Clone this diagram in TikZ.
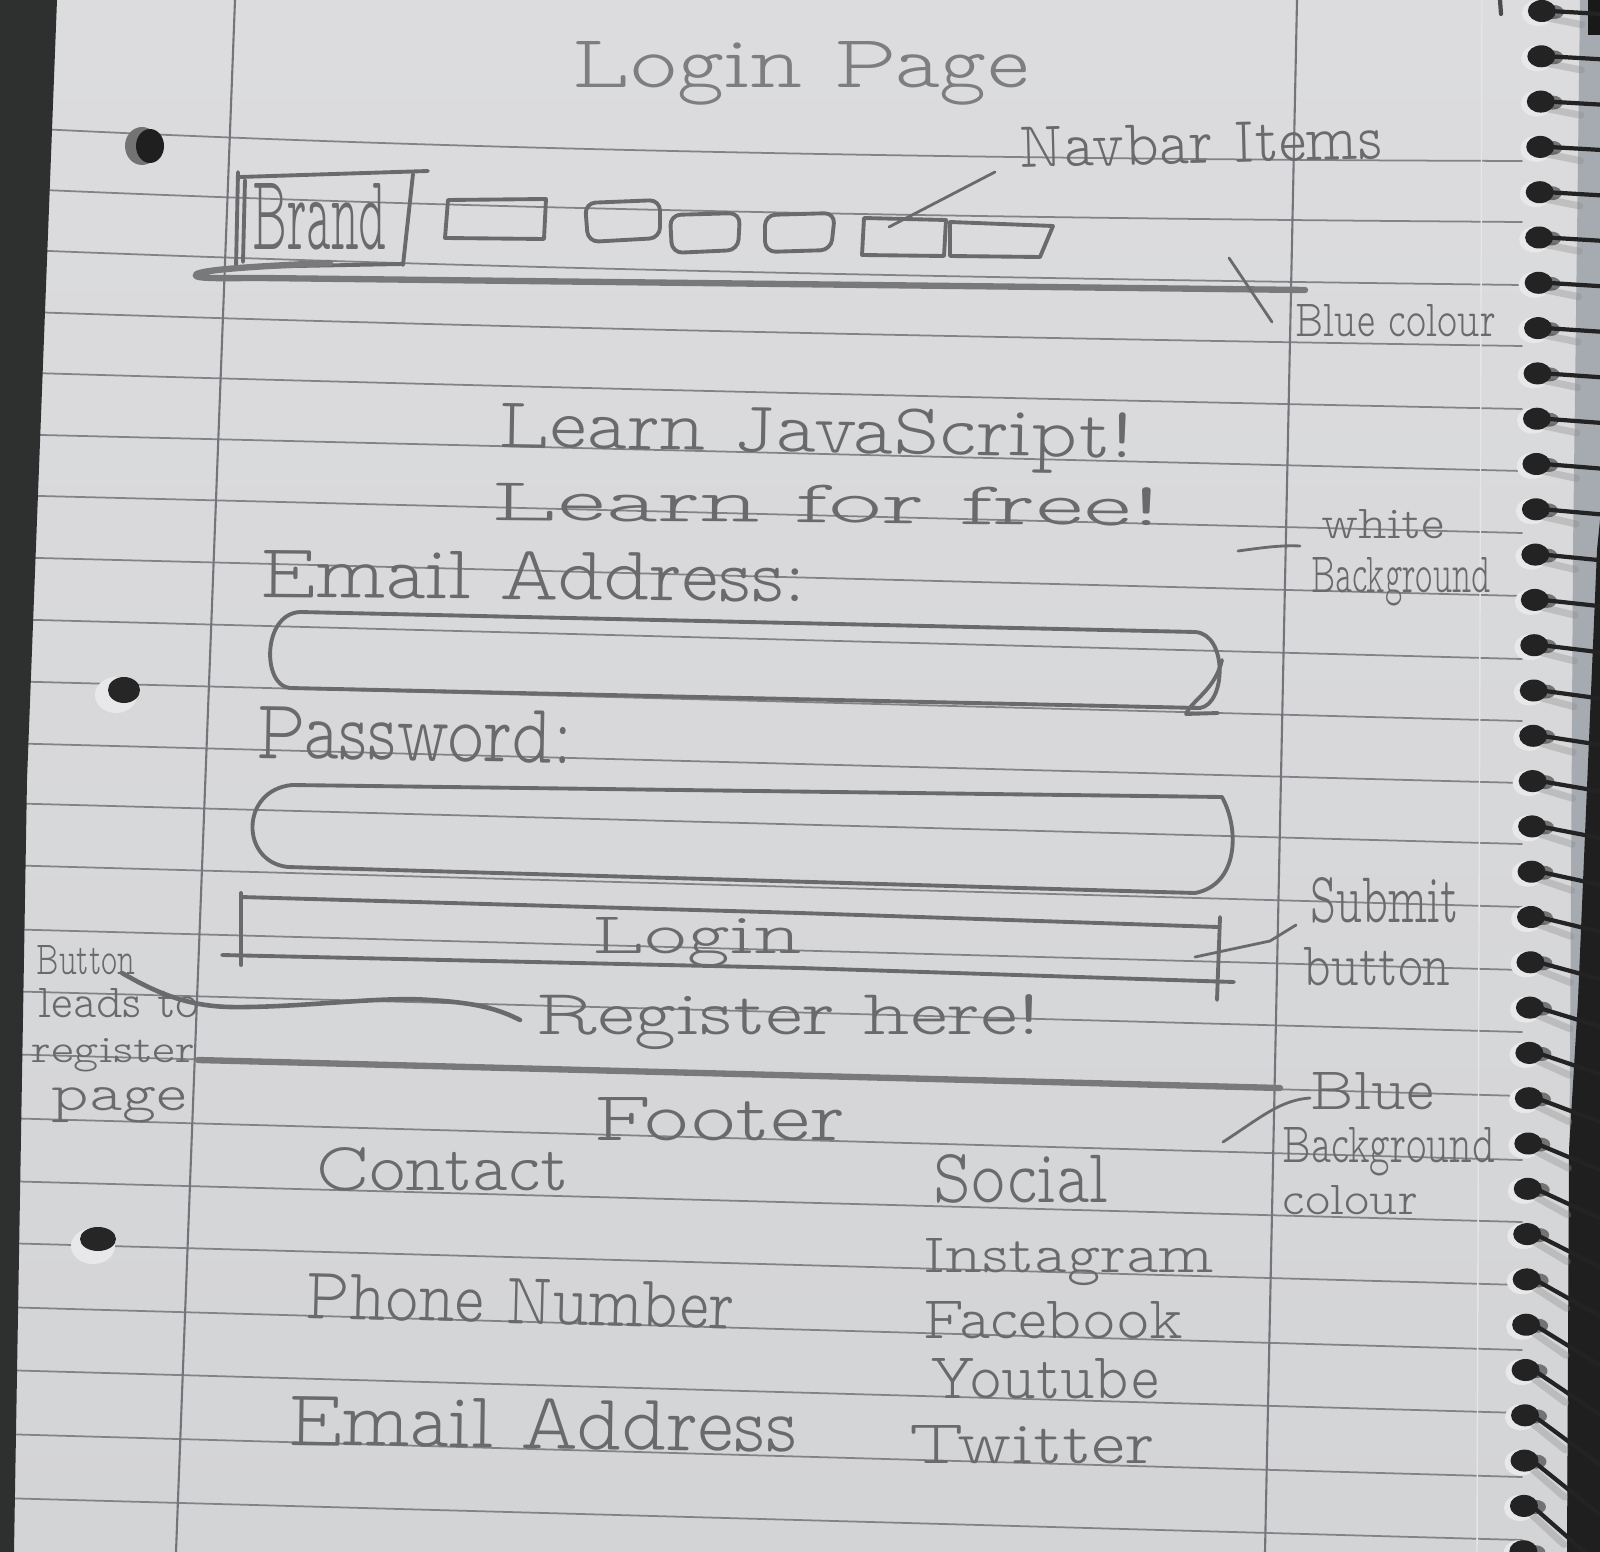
\documentclass[tikz,border=0pt]{standalone}
\usepackage{fontspec}
\usepackage{graphicx}
\newfontfamily\handfont{lmmonoproplt10-regular.otf}
\definecolor{paperTop}{HTML}{DCDCDE}
\definecolor{paperBot}{HTML}{D3D4D6}
\definecolor{rulec}{HTML}{838387}
\definecolor{marginc}{HTML}{74747A}
\definecolor{pencil}{HTML}{6A6A6C}
\definecolor{pencilsoft}{HTML}{7E7E80}
\definecolor{desk}{HTML}{2E302F}
\definecolor{coilc}{HTML}{232323}
\definecolor{cover}{HTML}{A6AAB1}
\definecolor{holering}{HTML}{E8E8EA}

% one unit = one pixel of the sheet (0.01cm)
\newlength\pxu \setlength\pxu{0.01cm}
\newcommand\hw[3]{\resizebox{#1\pxu}{#2\pxu}{#3}}

\begin{document}
\begin{tikzpicture}[x=0.01cm,y=-0.01cm,line cap=round,line join=round,
  rule/.style={draw=rulec,line width=0.5pt},
  marginline/.style={draw=marginc,line width=0.6pt},
  pencilline/.style={draw=pencil,line width=1.1pt},
  heavyline/.style={draw=pencil!90,line width=1.8pt},
  leader/.style={draw=pencil,line width=0.8pt},
  hand/.style={inner sep=0pt,anchor=base west,text=pencil,font=\handfont},
  wire/.style={draw=coilc,line width=1.2pt},
  wireshadow/.style={draw=black!45,line width=2pt,opacity=0.35}]
\useasboundingbox (0,0) rectangle (1600,1552);

% sheet
\shade[top color=paperTop,bottom color=paperBot] (0,0) rectangle (1600,1552);

% ruled lines (slightly curved near the top of the sheet)
\foreach \a/\b [count=\k from 0] in {129/161,190/222,251/285,313/346,374/409,436/471,
  497/533,559/596,621/659,683/721,745/783,805/844,867/907,931/970,993/1032,1056/1096,
  1120/1160,1183/1222,1245/1285,1309/1350,1372/1413,1436/1477,1500/1540}{
  \pgfmathsetmacro\off{max(0,1-\k/5)*12}
  \draw[rule] (0,\a-2) .. controls (400,{\a-2+(\b-\a+2)*0.262+\off})
     and (900,{\a-2+(\b-\a+2)*0.59+\off}) .. (1522,\b);
}

% margins
\draw[marginline] (235,0) -- (176,1552);
\draw[marginline] (1297,0) -- (1265,1552);
\draw[draw=black!10,line width=0.4pt] (1482,0) -- (1477,1552);

% desk at the left edge
\fill[desk] (0,0) -- (57,0) -- (27,780) -- (14,1552) -- (0,1552) -- cycle;

% punched holes
\fill[black!55] (142,146) ellipse [x radius=17,y radius=19];
\fill[black!88] (150,146) ellipse [x radius=14,y radius=17];
\fill[holering] (116,695) ellipse [x radius=21,y radius=18];
\fill[black!85] (124,690) ellipse [x radius=16,y radius=13];
\fill[holering] (93,1246) ellipse [x radius=22,y radius=18];
\fill[black!85] (98,1239) ellipse [x radius=18,y radius=12];

% cover edge behind the binding
\fill[cover] (1580,0) -- (1600,0) -- (1600,1552) -- (1567,1552) -- (1573,550) -- cycle;
\fill[black!90] (1588,0) rectangle (1600,35);
\fill[black!88] (1600,520) -- (1597,550) -- (1578,1000) -- (1569,1150) -- (1567,1552)
   -- (1600,1552) -- cycle;

% spiral binding
\foreach \k in {0,...,34}{
  \pgfmathsetmacro\yc{11+45.3*\k}
  \pgfmathsetmacro\xc{1542-0.012*\yc}
  \pgfmathsetmacro\sl{0.05+0.8*(\yc/1550)^3}
  \pgfmathsetmacro\len{1600-\xc}
  \fill[holering] (\xc-4,\yc+2) ellipse [x radius=16,y radius=13];
  \draw[wireshadow] (\xc+6,\yc+7) -- (\xc+40,{\yc+12+\sl*34});
  \fill[coilc] (\xc,\yc) ellipse [x radius=14,y radius=11];
  \fill[coilc,opacity=0.55] (\xc+12,\yc+1) ellipse [x radius=10,y radius=7];
  \draw[wire] (\xc+8,\yc) -- (1600,{\yc+\sl*\len});
}
\draw[draw=black!70,line width=1.2pt] (1500,0) -- (1501,14);

% ---------- title ----------
\node[hand,text=pencilsoft] (title) at (572,88) {\hw{456}{46}{Login Page}};

% ---------- navigation bar ----------
\node[hand,rotate=1.5] (navtxt) at (1019,168) {\hw{363}{40}{Navbar Items}};
\node[hand] (brand) at (252,250) {\hw{134}{66}{Brand}};
\draw[pencilline] (240,177) -- (428,171);
\draw[pencilline] (238,172) -- (236,268);
\draw[pencilline] (245,180) -- (243,262);
\draw[pencilline] (413,174) -- (403,265);
\draw[pencilline] (245,267) -- (403,264);
\draw[pencilline] (448,200) -- (546,199) -- (544,239) -- (445,238) -- cycle;
\draw[pencilline,rounded corners=3] (585,203) -- (660,200) -- (660,238) -- (588,242) -- cycle;
\draw[pencilline,rounded corners=3] (670,215) -- (740,213) -- (738,250) -- (672,253) -- cycle;
\draw[pencilline,rounded corners=3] (765,215) -- (835,213) -- (831,250) -- (765,252) -- cycle;
\draw[pencilline] (864,218) -- (946,220) -- (944,256) -- (862,255) -- cycle;
\draw[pencilline] (950,222) -- (1053,226) -- (1040,257) -- (950,256) -- cycle;
\draw[heavyline] (330,263) .. controls (260,266) and (190,270) .. (196,276)
   .. controls (200,279) and (230,278) .. (260,278) -- (1305,290);
\coordinate (navA) at (995,172);
\coordinate (navB) at (889,227);
\draw[leader] (navA) -- (navB);

\node[hand] (bluec) at (1295,337) {\hw{200}{32}{Blue colour}};
\coordinate (bluecA) at (1229,258);
\coordinate (bluecB) at (1272,322);
\draw[leader] (bluecA) -- (bluecB);

% ---------- headline ----------
\node[hand,rotate=-1] (learn1) at (498,447) {\hw{635}{45}{Learn JavaScript!}};
\node[hand,rotate=-0.5] (learn2) at (491,520) {\hw{670}{38}{Learn for free!}};
\node[hand] (white1) at (1321,538) {\hw{123}{29}{white}};
\node[hand] (white2) at (1311,592) {\hw{179}{35}{Background}};
\coordinate (whiteA) at (1238,551);
\coordinate (whiteB) at (1300,546);
\draw[leader] (whiteA) .. controls (1260,548) and (1280,545) .. (whiteB);

% ---------- form ----------
\node[hand,rotate=-0.5] (emaill) at (260,597) {\hw{546}{48}{Email Address:}};
\draw[pencilline] (300,612) -- (1195,632) .. controls (1228,634) and (1226,704) .. (1200,708)
   -- (290,688) .. controls (262,686) and (262,614) .. (300,612);
\draw[pencilline] (1222,660) .. controls (1215,690) and (1192,700) .. (1186,714) -- (1218,713);

\node[hand,rotate=-1] (pwl) at (256,758) {\hw{316}{52}{Password:}};
\draw[pencilline] (292,785) -- (1222,797) .. controls (1240,830) and (1238,885) .. (1195,893)
   -- (288,867) .. controls (240,862) and (240,790) .. (292,785);

\draw[pencilline] (241,893) -- (241,965);
\draw[pencilline] (241,897) -- (800,913) -- (1218,927);
\draw[pencilline] (222,955) -- (800,968) -- (1234,982);
\draw[pencilline] (1220,917) -- (1217,1000);
\node[hand] (login) at (592,953) {\hw{209}{36}{Login}};
\node[hand] (submit1) at (1310,922) {\hw{148}{45}{Submit}};
\node[hand] (submit2) at (1303,985) {\hw{147}{38}{button}};
\coordinate (subA) at (1195,957);
\coordinate (subB) at (1296,925);
\draw[leader] (subA) -- (1270,941) -- (subB);

\node[hand] (reg) at (536,1034) {\hw{504}{40}{Register here!}};
\node[hand] (btn1) at (36,974) {\hw{99}{29}{Button}};
\node[hand] (btn2) at (38,1017) {\hw{161}{29}{leads to}};
\node[hand] (btn3) at (31,1062) {\hw{163}{24}{register}};
\node[hand] (btn4) at (51,1110) {\hw{135}{23}{page}};
\coordinate (regA) at (122,973);
\coordinate (regB) at (520,1020);
\draw[leader,line width=1.3pt] (regA) .. controls (160,995) and (190,1006) .. (230,1007)
   .. controls (300,1008) and (380,996) .. (430,1000) .. controls (480,1003) and (500,1010) .. (regB);

% ---------- footer ----------
\draw[heavyline] (198,1060) -- (1280,1088);
\node[hand] (footer) at (594,1140) {\hw{250}{43}{Footer}};
\node[hand] (bbg1) at (1310,1109) {\hw{123}{37}{Blue}};
\node[hand] (bbg2) at (1282,1162) {\hw{212}{35}{Background}};
\node[hand] (bbg3) at (1282,1214) {\hw{135}{29}{colour}};
\coordinate (bbgA) at (1223,1142);
\coordinate (bbgB) at (1310,1098);
\draw[leader] (bbgA) .. controls (1260,1118) and (1280,1100) .. (bbgB);

\node[hand] (contact) at (316,1190) {\hw{252}{43}{Contact}};
\node[hand,rotate=-1.5] (phone) at (305,1318) {\hw{428}{45}{Phone Number}};
\node[hand,rotate=-0.8] (email2) at (288,1445) {\hw{508}{50}{Email Address}};
\node[hand] (social) at (933,1202) {\hw{175}{48}{Social}};
\node[hand] (insta) at (923,1272) {\hw{290}{34}{Instagram}};
\node[hand] (fb) at (923,1338) {\hw{259}{37}{Facebook}};
\node[hand] (yt) at (930,1398) {\hw{228}{40}{Youtube}};
\node[hand] (tw) at (909,1463) {\hw{245}{38}{Twitter}};
\end{tikzpicture}
\end{document}
